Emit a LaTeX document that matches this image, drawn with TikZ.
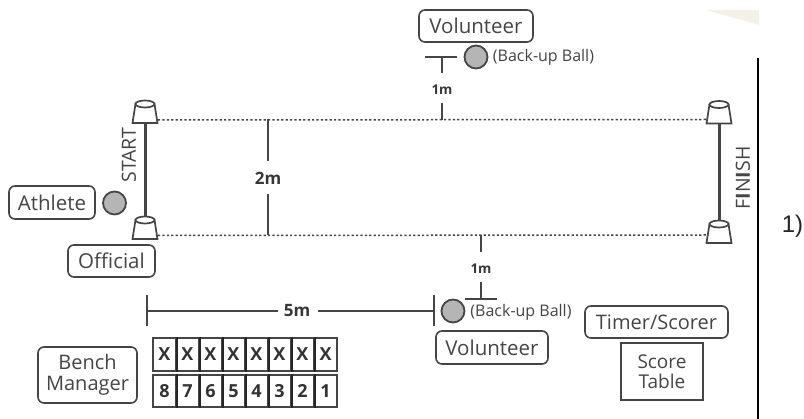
\documentclass[tikz,border=0pt]{standalone}
\usepackage{fontspec}
\setmainfont{Open Sans}
\newfontfamily\arialfont{Liberation Sans}
\definecolor{ink}{HTML}{454545}
\definecolor{ballfill}{HTML}{B5B5B5}
\definecolor{corner}{HTML}{F3F1E8}
\tikzset{
  x=1pt,y=-1pt,
  role/.style={draw=ink,line width=1.6pt,rounded corners=6pt,inner sep=0pt,text=ink,font=\fontsize{20.5}{22}\selectfont,align=center,minimum width=#1},
  role/.default=80pt,
  ball/.style={circle,draw=ink,line width=1.8pt,fill=ballfill,minimum size=23pt,inner sep=0pt},
  dots/.style={draw=ink,line width=1.5pt,dash pattern=on 2.2pt off 2.2pt},
  measure/.style={draw=ink,line width=1.7pt},
  post/.style={draw=ink,line width=3pt},
  dimlabel/.style={font=\bfseries\fontsize{17}{19}\selectfont,text=ink!80!black,inner sep=0pt},
  smalldim/.style={font=\bfseries\fontsize{13.5}{15}\selectfont,text=ink!80!black,inner sep=0pt},
  ballnote/.style={font=\fontsize{16}{18}\selectfont,text=ink,inner sep=0pt},
  edge label/.style={font=\fontsize{19.5}{21}\selectfont,text=ink,inner sep=0pt,rotate=90},
  cell/.style={draw=ink,line width=1.5pt,minimum width=23pt,minimum height=#1,inner sep=0pt,font=\bfseries\fontsize{18}{20}\selectfont,text=black!80},
  divider/.style={draw=black!85,line width=2.2pt},
  cone/.pic={
    \draw[ink,line width=1.7pt,fill=white] (-12.5,11) -- (-9.5,-8) -- (9.5,-8) -- (12.5,11) -- cycle;
    \draw[ink,line width=1.7pt,fill=white] (0,-8) ellipse [x radius=9.5,y radius=3.5];
  }
}
\begin{document}
\begin{tikzpicture}
\useasboundingbox (0,0) rectangle (804,419);
\fill[white] (0,0) rectangle (804,419);
\fill[corner] (706,10) -- (759,10) -- (759,25) -- cycle;

% edge of the sheet and the list number
\coordinate (edgeTop) at (758,58);
\coordinate (edgeBottom) at (758,419);
\draw[black,line width=1.5pt] (edgeTop) -- (edgeBottom);
\node[font=\arialfont\fontsize{24}{26}\selectfont,text=black!85,inner sep=0pt] (listno) at (792.5,226) {1)};

% lane marks
\coordinate (startTop) at (145,112);
\coordinate (startBottom) at (145,222);
\coordinate (finishTop) at (719,112);
\coordinate (finishBottom) at (719,224);
\draw[post] (startTop) -- (startBottom);
\draw[post] (finishTop) -- (finishBottom);

\coordinate (topL) at (158,120);
\coordinate (topR) at (707,119.5);
\coordinate (botL) at (158,235.5);
\coordinate (botR) at (707,235);
\draw[dots] (topL) -- (topR);
\draw[dots] (botL) -- (botR);

\pic at (145,112) {cone};
\pic at (145,228) {cone};
\pic at (719,112.5) {cone};
\pic at (719,232) {cone};

\node[edge label] (start) at (129,155) {START};
\node[edge label] (finish) at (743,178) {F\textbf{I}N\textbf{I}SH};

% 2m
\node[dimlabel] (twoM) at (268,178) {2m};
\coordinate (twoTop) at (268,119);
\coordinate (twoBot) at (268,235);
\draw[measure] (twoTop) -- (268,161);
\draw[measure] (268,194) -- (twoBot);

% roles at start
\node[role=86pt,minimum height=33pt] (athlete) at (52,202.5) {Athlete};
\node[ball] (athleteBall) at (114.5,203) {};
\node[role=87pt,minimum height=32pt] (official) at (111.5,261) {Official};

% upper volunteer
\node[role=114pt,minimum height=32pt] (volTop) at (476,26) {Volunteer};
\node[ball] (ballTop) at (476,57) {};
\node[ballnote] (noteTop) at (543.5,57) {(Back-up Ball)};
\coordinate (barTopL) at (425,57);
\coordinate (barTopR) at (457,57);
\coordinate (barTopM) at (442,57);
\coordinate (lineTopEnd) at (442,120);
\draw[measure] (barTopL) -- (barTopR);
\draw[measure] (barTopM) -- (442,73);
\node[smalldim] (oneTop) at (442,90) {1m};
\draw[measure] (442,103) -- (lineTopEnd);

% lower volunteer
\coordinate (lineLowStart) at (481,235);
\coordinate (barLowL) at (465,299);
\coordinate (barLowR) at (497,299);
\coordinate (barLowM) at (481,299);
\draw[measure] (lineLowStart) -- (481,252);
\node[smalldim] (oneLow) at (481,269) {1m};
\draw[measure] (481,282) -- (barLowM);
\draw[measure] (barLowL) -- (barLowR);
\node[ball] (ballLow) at (453,311) {};
\node[ballnote] (noteLow) at (521,312) {(Back-up Ball)};
\node[role=112pt,minimum height=33pt] (volLow) at (492,347.5) {Volunteer};

% 5m
\coordinate (fiveLT) at (147,295);
\coordinate (fiveLB) at (147,326);
\coordinate (fiveL) at (147,311);
\coordinate (fiveRT) at (433.5,295);
\coordinate (fiveRB) at (433.5,326);
\coordinate (fiveR) at (433.5,311);
\draw[measure,line width=2pt] (fiveLT) -- (fiveLB);
\draw[measure,line width=2pt] (fiveRT) -- (fiveRB);
\node[dimlabel] (fiveM) at (297,311) {5m};
\draw[measure] (fiveL) -- (278,311);
\draw[measure] (318,311) -- (fiveR);

% bench
\node[role=99pt,minimum height=56pt,font=\fontsize{20}{21}\selectfont] (bench) at (87.5,375) {Bench\\Manager};
\foreach \i/\n in {0/8,1/7,2/6,3/5,4/4,5/3,6/2,7/1}{
  \node[cell=33pt] (x\n) at ({164.5+\i*23},354.5) {X};
  \node[cell=32pt] (n\n) at ({164.5+\i*23},391) {\n};
}
\foreach \n in {8,7,6,5,4,3,2}{
  \draw[divider] (x\n.north east) -- (x\n.south east);
  \draw[divider] (n\n.north east) -- (n\n.south east);
}

% scorer
\node[role=143pt,minimum height=32pt,font=\fontsize{20}{22}\selectfont] (timer) at (656.5,322) {Timer/Scorer};
\node[draw=ink,line width=1.6pt,minimum width=82pt,minimum height=57pt,inner sep=0pt,text=ink,align=center,font=\fontsize{19}{20}\selectfont] (score) at (662,371.5) {Score\\Table};
\end{tikzpicture}
\end{document}
